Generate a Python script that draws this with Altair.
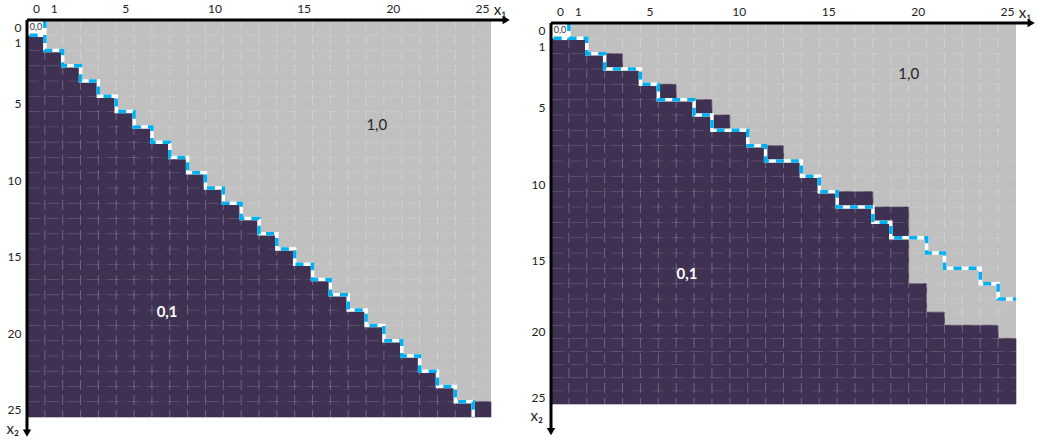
import altair as alt
import pandas as pd

# ---------------- data ----------------
N_COLS = 26
N_ROWS = 26
TICKS = [0, 1, 5, 10, 15, 20, 25]

# number of dark (0,1) cells in each row x2 = 0..25, counted from x1 = 0
LEFT_DARK_END = [0, 1, 2, 3, 4, 5, 6, 7, 8, 9, 10, 11, 12, 13, 14, 15, 16, 17,
                 18, 19, 20, 21, 22, 23, 24, 26]
# column boundary where the dashed boundary line runs in each row
LEFT_LINE_COL = [1, 1, 2, 3, 4, 5, 6, 7, 8, 9, 10, 11, 12, 13, 14, 15, 16, 17,
                 18, 19, 20, 21, 22, 23, 24, 25]

RIGHT_DARK_END = [0, 2, 4, 5, 7, 9, 10, 11, 13, 14, 15, 18, 20, 20, 20, 20, 20,
                  21, 21, 22, 25, 26, 26, 26, 26, 26]
RIGHT_LINE_COL = [1, 2, 3, 5, 6, 8, 9, 11, 12, 14, 15, 16, 18, 19, 21, 22, 24, 25]

LEFT_REGION_TEXT = ["1,0", "0,1"]
LEFT_REGION_X = [19.6, 7.85]
LEFT_REGION_Y = [6.9, 19.1]
RIGHT_REGION_TEXT = ["1,0", "0,1"]
RIGHT_REGION_X = [20.0, 7.6]
RIGHT_REGION_Y = [3.3, 16.4]

DARK = "#3f3152"
GRAY = "#c0c0c0"
BLUE = "#00b0f0"
FONT = "Lato"


def line_path(line_col, n_rows_line, final_col):
    pts = []
    o = 0
    for r in range(n_rows_line):
        c = line_col[r]
        pts.append({"x": c, "y": r, "o": o, "seg": "main"}); o += 1
        pts.append({"x": c, "y": r + 1, "o": o, "seg": "main"}); o += 1
    if final_col is not None:
        pts.append({"x": final_col, "y": n_rows_line, "o": o, "seg": "main"})
    # short piece under the 0,0 cell
    pts.append({"x": 0.15, "y": 1, "o": 0, "seg": "stub"})
    pts.append({"x": line_col[0], "y": 1, "o": 1, "seg": "stub"})
    return pd.DataFrame(pts)


def panel(dark_end, line_col, n_rows_line, final_col, width, height, y_domain,
          y_range, reg_text, reg_x, reg_y, axis_end_x, axis_end_y, x1_pos,
          x2_pos, top_pad):
    xs = alt.Scale(domain=[0, N_COLS], range=[0, width], nice=False, zero=False)
    ys = alt.Scale(domain=y_domain, range=y_range, nice=False, zero=False)
    tick_vals = [t + 0.5 for t in TICKS]
    xaxis = alt.Axis(orient="top", values=tick_vals,
                     labelExpr="format(floor(datum.value), 'd')",
                     domain=False, ticks=False, grid=False, labelPadding=top_pad,
                     labelFont=FONT, labelFontSize=12, labelColor="#222222",
                     title=None, labelFlush=False, labelOverlap=False)
    yaxis = alt.Axis(orient="left", values=tick_vals,
                     labelExpr="format(floor(datum.value), 'd')",
                     domain=False, ticks=False, grid=False, labelPadding=6,
                     labelFont=FONT, labelFontSize=12, labelColor="#222222",
                     title=None, labelFlush=False, labelOverlap=False)

    def X(field):
        return alt.X(field, scale=xs, axis=xaxis)

    def Y(field):
        return alt.Y(field, scale=ys, axis=yaxis)

    bg_df = pd.DataFrame({"x": [0], "x2": [N_COLS], "y": [0], "y2": [N_ROWS]})
    bg = alt.Chart(bg_df).mark_rect(fill=GRAY).encode(
        x=X("x:Q"), x2="x2:Q", y=Y("y:Q"), y2="y2:Q")

    dark_df = pd.DataFrame({"x": [0] * N_ROWS, "x2": dark_end,
                            "y": list(range(N_ROWS)),
                            "y2": [r + 1 for r in range(N_ROWS)]})
    dark_df = dark_df[dark_df["x2"] > 0]
    dark = alt.Chart(dark_df).mark_rect(fill=DARK, stroke=DARK, strokeWidth=0.6).encode(
        x=X("x:Q"), x2="x2:Q", y=Y("y:Q"), y2="y2:Q")

    white_df = pd.DataFrame({"x": [0], "x2": [1], "y": [0], "y2": [1]})
    white = alt.Chart(white_df).mark_rect(fill="white").encode(
        x=X("x:Q"), x2="x2:Q", y=Y("y:Q"), y2="y2:Q")

    vgrid_df = pd.DataFrame({"x": list(range(1, N_COLS)), "y": 0, "y2": N_ROWS})
    vgrid = alt.Chart(vgrid_df).mark_rule(color="white", opacity=0.25,
                                          strokeDash=[10, 5], strokeWidth=1).encode(
        x=X("x:Q"), y=Y("y:Q"), y2="y2:Q")
    hgrid_df = pd.DataFrame({"y": list(range(1, N_ROWS)), "x": 0, "x2": N_COLS})
    hgrid = alt.Chart(hgrid_df).mark_rule(color="white", opacity=0.14,
                                          strokeDash=[12, 8], strokeWidth=1).encode(
        y=Y("y:Q"), x=X("x:Q"), x2="x2:Q")

    path_df = line_path(line_col, n_rows_line, final_col)
    base_line = alt.Chart(path_df).encode(
        x=X("x:Q"), y=Y("y:Q"), order=alt.Order("o:Q"), detail="seg:N")
    line_w = base_line.mark_line(color="white", strokeWidth=3.5, strokeCap="butt",
                                 strokeJoin="miter")
    line_b = base_line.mark_line(color=BLUE, strokeWidth=3.5, strokeCap="butt",
                                 strokeDash=[8, 7], strokeJoin="miter")

    ax_df = pd.DataFrame({"x": [0, 0], "x2": [axis_end_x, 0],
                          "y": [0, 0], "y2": [0, axis_end_y]})
    axes = alt.Chart(ax_df).mark_rule(color="black", strokeWidth=3).encode(
        x=X("x:Q"), x2="x2:Q", y=Y("y:Q"), y2="y2:Q")
    arr_r = alt.Chart(pd.DataFrame({"x": [axis_end_x], "y": [0]})).mark_point(
        shape="triangle-right", filled=True, color="black", size=70, opacity=1).encode(
        x=X("x:Q"), y=Y("y:Q"))
    arr_d = alt.Chart(pd.DataFrame({"x": [0], "y": [axis_end_y]})).mark_point(
        shape="triangle-down", filled=True, color="black", size=70, opacity=1).encode(
        x=X("x:Q"), y=Y("y:Q"))

    names_df = pd.DataFrame({"t": ["x\u2081", "x\u2082"],
                             "x": [x1_pos[0], x2_pos[0]],
                             "y": [x1_pos[1], x2_pos[1]]})
    names = alt.Chart(names_df).mark_text(font=FONT, fontSize=15, color="#222222").encode(
        x=X("x:Q"), y=Y("y:Q"), text="t:N")

    zero_df = pd.DataFrame({"t": ["0,0"], "x": [0.5], "y": [0.45]})
    zero = alt.Chart(zero_df).mark_text(font=FONT, fontSize=9, color="#333333").encode(
        x=X("x:Q"), y=Y("y:Q"), text="t:N")

    reg_df = pd.DataFrame({"t": reg_text, "x": reg_x, "y": reg_y})
    reg1 = alt.Chart(reg_df.iloc[[0]]).mark_text(font=FONT, fontSize=15,
                                                 color="#262626").encode(
        x=X("x:Q"), y=Y("y:Q"), text="t:N")
    reg2 = alt.Chart(reg_df.iloc[[1]]).mark_text(font=FONT, fontSize=15,
                                                 fontWeight="bold", color="white").encode(
        x=X("x:Q"), y=Y("y:Q"), text="t:N")

    return alt.layer(bg, dark, white, vgrid, hgrid, line_w, line_b, axes, arr_r,
                     arr_d, names, zero, reg1, reg2).properties(width=width,
                                                               height=height)


left = panel(LEFT_DARK_END, LEFT_LINE_COL, 26, None, 464, 397, [0, 26], [0, 397],
             LEFT_REGION_TEXT, LEFT_REGION_X, LEFT_REGION_Y, 26.85, 27.05,
             (26.5, -0.65), (-0.8, 26.78), 5)
right = panel(RIGHT_DARK_END, RIGHT_LINE_COL, 18, 26, 465, 384, [0, 18, 26],
              [3, 279, 384], RIGHT_REGION_TEXT, RIGHT_REGION_X, RIGHT_REGION_Y,
              26.85, 28.1, (26.5, -0.65), (-0.8, 26.95), 2)

chart = alt.hconcat(left, right, spacing=60, bounds="flush").properties(
    padding={"left": 6, "top": 2, "right": 0, "bottom": 0}
).configure_view(stroke=None)

chart.save("out.html", embed_options={"renderer": "svg", "actions": False})
